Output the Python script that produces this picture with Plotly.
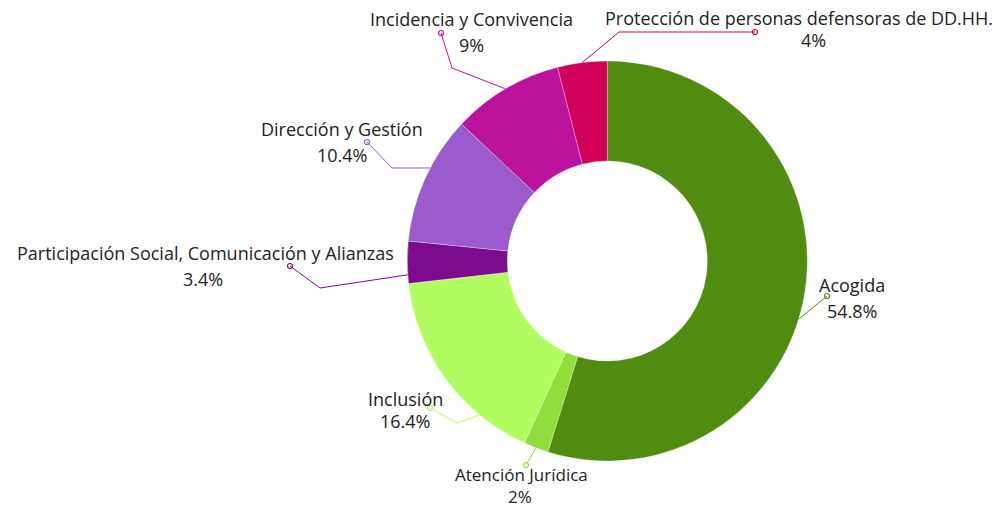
import math
import plotly.graph_objects as go

# ---- data ----
categories = [
    "Acogida",
    "Atención Jurídica",
    "Inclusión",
    "Participación Social, Comunicación y Alianzas",
    "Dirección y Gestión",
    "Incidencia y Convivencia",
    "Protección de personas defensoras de DD.HH.",
]
values = [54.8, 2, 16.4, 3.4, 10.4, 9, 4]
colors = ["#508c10", "#90de3e", "#b1fd5f", "#7d0b8d", "#9b5bcc", "#bb139e", "#d0005b"]

# ---- layout (pixels) ----
W, H = 997, 507
CX, CY, R = 607.3, 261, 200
FONT = "Open Sans"

# label placement: name x/anchor, name y, pct x, pct y, font size, elbow points, angle shift (% of circle)
label_layout = [
    dict(lx=852, anchor="center", ly=285, px=852, py=311, fs=18, path=[(827, 296)], shift=2.3),
    dict(lx=521, anchor="center", ly=474, px=520, py=496, fs=17, path=[(526, 465)], shift=0),
    dict(lx=405, anchor="center", ly=399, px=405, py=421, fs=18, path=[(457, 423), (430, 408)], shift=-4),
    dict(lx=205, anchor="center", ly=253, px=203, py=279, fs=18, path=[(320, 288), (290, 266)], shift=-1),
    dict(lx=342, anchor="center", ly=129, px=342, py=155, fs=18, path=[(392, 168), (367, 142)], shift=0.9),
    dict(lx=471, anchor="center", ly=19, px=471, py=45, fs=18, path=[(452, 68), (441, 33)], shift=0),
    dict(lx=995, anchor="right", ly=18, px=813, py=40, fs=18, path=[(619, 32), (755, 32)], shift=0),
]

fig = go.Figure()
fig.add_trace(go.Pie(
    labels=categories, values=values, hole=0.5, sort=False,
    direction="clockwise", rotation=0,
    marker=dict(colors=colors, line=dict(color="rgba(255,255,255,0.6)", width=0.5)),
    textinfo="none", hoverinfo="skip", showlegend=False,
    domain=dict(x=[(CX - R) / W, (CX + R) / W], y=[(H - CY - R) / H, (H - CY + R) / H]),
))

total = sum(values)
cum = 0.0
annotations = []
for name, v, col, lay in zip(categories, values, colors, label_layout):
    mid = (cum + v / 2 + lay["shift"]) / total * 2 * math.pi
    cum += v
    sx = CX + R * math.sin(mid)
    sy = CY - R * math.cos(mid)
    xs = [sx] + [p[0] for p in lay["path"]]
    ys = [sy] + [p[1] for p in lay["path"]]
    fig.add_trace(go.Scatter(
        x=xs, y=ys, mode="lines", line=dict(color=col, width=1),
        hoverinfo="skip", showlegend=False,
    ))
    fig.add_trace(go.Scatter(
        x=[xs[-1]], y=[ys[-1]], mode="markers",
        marker=dict(symbol="circle-open", size=5, color=col, line=dict(width=1.2, color=col)),
        hoverinfo="skip", showlegend=False,
    ))
    annotations.append(dict(x=lay["lx"], y=lay["ly"], xref="x", yref="y", text=name,
                            showarrow=False, xanchor=lay["anchor"], yanchor="middle",
                            font=dict(family=FONT, size=lay["fs"], color="#222222")))
    annotations.append(dict(x=lay["px"], y=lay["py"], xref="x", yref="y", text=f"{v:g}%",
                            showarrow=False, xanchor="center", yanchor="middle",
                            font=dict(family=FONT, size=lay["fs"], color="#222222")))

fig.update_layout(
    width=W, height=H, autosize=False,
    margin=dict(l=0, r=0, t=0, b=0),
    paper_bgcolor="white", plot_bgcolor="rgba(0,0,0,0)",
    xaxis=dict(range=[0, W], visible=False, fixedrange=True, domain=[0, 1]),
    yaxis=dict(range=[H, 0], visible=False, fixedrange=True, domain=[0, 1]),
    annotations=annotations,
    showlegend=False,
)

fig.write_html("out.html", post_script="document.body.style.margin='0';",
               config={"displayModeBar": False})
